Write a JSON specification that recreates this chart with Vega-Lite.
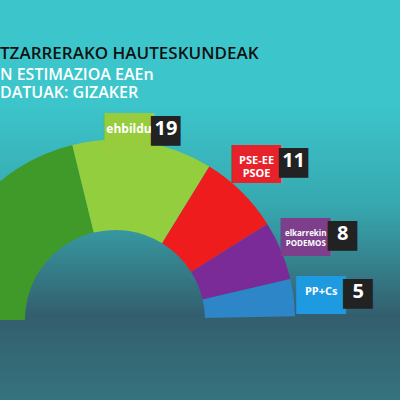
{
  "$schema": "https://vega.github.io/schema/vega-lite/v6.json",
  "width": 400,
  "height": 300,
  "autosize": {"type": "none"},
  "padding": {"top": 100, "left": 0, "right": 0, "bottom": 0},
  "background": "#3cc6cc",
  "config": {"view": {"stroke": null}},
  "title": {
    "text": "TZARRERAKO HAUTESKUNDEAK",
    "subtitle": ["N ESTIMAZIOA EAEn", "DATUAK: GIZAKER"],
    "anchor": "start",
    "frame": "group",
    "font": "Open Sans",
    "fontSize": 17,
    "fontWeight": 600,
    "color": "#111111",
    "subtitleFont": "Open Sans",
    "subtitleFontSize": 16,
    "subtitleFontWeight": 600,
    "subtitleColor": "#ffffff",
    "subtitlePadding": 4,
    "offset": -2
  },
  "data": {"values": [
    {"party": "EAJ-PNV", "seats": 32, "order": 1, "name": ""},
    {"party": "EH Bildu", "seats": 19, "order": 2, "name": "ehbildu"},
    {"party": "PSE-EE", "seats": 11, "order": 3, "name": "PSE-EE\nPSOE"},
    {"party": "Elkarrekin Podemos", "seats": 8, "order": 4, "name": "elkarrekin\nPODEMOS"},
    {"party": "PP+Cs", "seats": 5, "order": 5, "name": "PP+Cs"}
  ]},
  "layer": [
    {
      "mark": {"type": "rect", "fill": {"gradient": "linear", "x1": 0, "y1": 0, "x2": 0, "y2": 1, "stops": [{"offset": 0, "color": "#3cc6cc"}, {"offset": 0.35, "color": "#37a8af"}, {"offset": 0.72, "color": "#335e6d"}, {"offset": 1, "color": "#35737e"}]}},
      "encoding": {}
    },
    {
      "mark": {"type": "arc", "outerRadius": 180, "innerRadius": 90, "x": {"expr": "width*0.2875"}, "y": {"expr": "height*0.733"}},
      "encoding": {
        "theta": {"field": "seats", "type": "quantitative", "stack": true, "scale": {"range": [-1.5708, 1.55]}},
        "order": {"field": "order", "type": "quantitative", "sort": "ascending"},
        "color": {"field": "party", "type": "nominal", "legend": null,
          "scale": {"domain": ["EAJ-PNV", "EH Bildu", "PSE-EE", "Elkarrekin Podemos", "PP+Cs"],
                    "range": ["#3f9a2a", "#92ce3e", "#ee1c1c", "#7b2b98", "#2d86c8"]}}
      }
    },
    {
      "mark": {"type": "text", "text": "██", "font": "DejaVu Sans", "fontSize": 32, "radius": {"expr": "datum.order == 2 ? 193 : 224"}, "dx": -16, "dy": 4, "align": "center", "baseline": "middle", "x": {"expr": "width*0.2875"}, "y": {"expr": "height*0.733"},
        "fill": {"expr": "datum.order == 2 ? '#97cc3c' : datum.order == 3 ? '#e8222b' : datum.order == 4 ? '#7d3f8c' : '#1e9ae0'"}},
      "encoding": {
        "theta": {"field": "seats", "type": "quantitative", "stack": true},
        "order": {"field": "order", "type": "quantitative", "sort": "ascending"},
        "opacity": {"condition": {"test": "datum.order == 1", "value": 0}, "value": 1}
      }
    },
    {
      "mark": {"type": "text", "text": "■", "font": "DejaVu Sans", "fontSize": 39, "radius": {"expr": "datum.order == 2 ? 193 : 224"}, "dx": 21, "align": "center", "baseline": "middle", "color": "#222222", "x": {"expr": "width*0.2875"}, "y": {"expr": "height*0.733"}},
      "encoding": {
        "theta": {"field": "seats", "type": "quantitative", "stack": true},
        "order": {"field": "order", "type": "quantitative", "sort": "ascending"},
        "opacity": {"condition": {"test": "datum.order == 1", "value": 0}, "value": 1}
      }
    },
    {
      "mark": {"type": "text", "font": "Open Sans", "fontWeight": "bold", "lineBreak": "\n", "radius": {"expr": "datum.order == 2 ? 193 : 224"}, "dx": -16, "align": "center", "baseline": "middle", "color": "#ffffff", "x": {"expr": "width*0.2875"}, "y": {"expr": "height*0.733"},
        "fontSize": {"expr": "datum.order == 4 ? 8 : datum.order == 2 ? 12 : 11"}},
      "encoding": {
        "theta": {"field": "seats", "type": "quantitative", "stack": true},
        "order": {"field": "order", "type": "quantitative", "sort": "ascending"},
        "text": {"field": "name", "type": "nominal"}
      }
    },
    {
      "mark": {"type": "text", "font": "Open Sans", "fontWeight": "bold", "fontSize": 20, "radius": {"expr": "datum.order == 2 ? 193 : 224"}, "dx": 21, "align": "center", "baseline": "middle", "color": "#ffffff", "x": {"expr": "width*0.2875"}, "y": {"expr": "height*0.733"}},
      "encoding": {
        "theta": {"field": "seats", "type": "quantitative", "stack": true},
        "order": {"field": "order", "type": "quantitative", "sort": "ascending"},
        "text": {"field": "seats", "type": "quantitative"},
        "opacity": {"condition": {"test": "datum.order == 1", "value": 0}, "value": 1}
      }
    }
  ]
}
